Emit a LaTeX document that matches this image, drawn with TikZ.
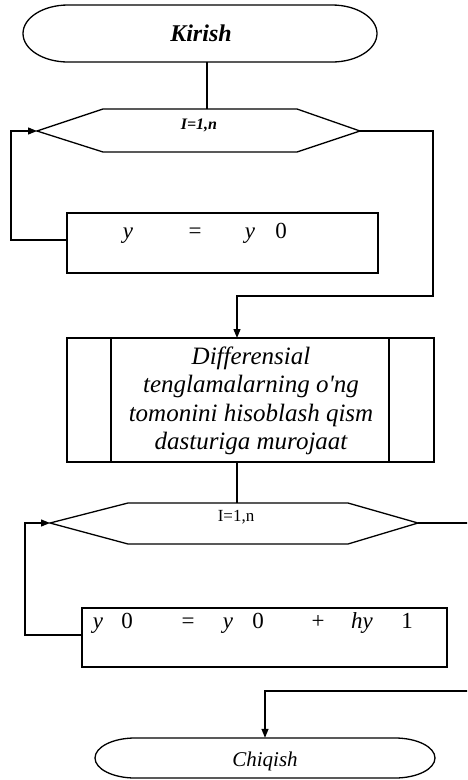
\documentclass[tikz,border=0pt]{standalone}
\usepackage{fontspec}
\setmainfont{Liberation Serif}[Ligatures=TeXOff]
\usetikzlibrary{arrows.meta}
\begin{document}
\begin{tikzpicture}[x=1pt,y=-1pt,
  ln/.style={line width=1.3pt},
  arr/.style={ln,-{Triangle[length=9pt,width=7pt]}},
  boxs/.style={draw,ln},
  eqtxt/.style={font=\fontsize{23}{25}\selectfont,inner sep=0pt,anchor=base}
]
\useasboundingbox (0,0) rectangle (467,780);
\clip (0,0) rectangle (467,780);
% Start terminal
\node[minimum width=355pt,minimum height=57pt,inner sep=0pt] (start) at (200,33.5) {};
\draw[ln] (68,5) -- (332,5) arc[start angle=-90,end angle=90,x radius=45,y radius=28.5]
  -- (68,62) arc[start angle=90,end angle=270,x radius=45,y radius=28.5] -- cycle;
\node[font=\fontsize{24}{26}\selectfont\bfseries\itshape] (starttxt) at (201,33) {Kirish};
% Loop 1 hexagon
\coordinate (h1l) at (37,131);
\coordinate (h1r) at (360,131);
\coordinate (h1t) at (207,109);
\draw[ln] (h1l) -- (103,109) -- (297,109) -- (h1r) -- (297,152) -- (103,152) -- cycle;
\node[font=\fontsize{16}{18}\selectfont\bfseries\itshape,inner sep=0pt] (h1txt) at (199,125) {I=1,n};
% Rect 1
\node[boxs,minimum width=311pt,minimum height=60pt,inner sep=0pt] (r1) at (222.5,243) {};
\node[eqtxt] (r1a) at (128,238) {\itshape y};
\node[eqtxt] (r1b) at (195,238) {=};
\node[eqtxt] (r1c) at (250,238) {\itshape y};
\node[eqtxt] (r1d) at (281,238) {0};
% Subroutine box
\node[boxs,minimum width=367pt,minimum height=124pt,inner sep=0pt] (sub) at (250.5,400) {};
\draw[ln] (111,338) -- (111,462);
\draw[ln] (389,338) -- (389,462);
\node[font=\fontsize{25}{28.5}\selectfont\itshape,align=center,inner sep=0pt] (subtxt) at (251,401)
  {Differensial\\tenglamalarning o'ng\\tomonini hisoblash qism\\dasturiga murojaat};
% Loop 2 hexagon
\coordinate (h2l) at (50,523);
\coordinate (h2r) at (418,523);
\coordinate (h2t) at (237,503);
\draw[ln] (h2l) -- (128,503) -- (348,503) -- (h2r) -- (348,544) -- (128,544) -- cycle;
\node[font=\fontsize{17}{19}\selectfont,inner sep=0pt] (h2txt) at (236,517) {I=1,n};
% Rect 2
\node[boxs,minimum width=365pt,minimum height=59pt,inner sep=0pt] (r2) at (264.5,637.5) {};
\node[eqtxt] (r2a) at (98,628) {\itshape y};
\node[eqtxt] (r2b) at (127,628) {0};
\node[eqtxt] (r2c) at (188,628) {=};
\node[eqtxt] (r2d) at (228,628) {\itshape y};
\node[eqtxt] (r2e) at (258,628) {0};
\node[eqtxt] (r2f) at (318,628) {+};
\node[eqtxt] (r2g) at (362,628) {\itshape hy};
\node[eqtxt] (r2h) at (407,628) {1};
% End terminal
\node[minimum width=340pt,minimum height=40pt,inner sep=0pt] (stop) at (265,758) {};
\draw[ln] (135,738) -- (395,738) arc[start angle=-90,end angle=90,x radius=40,y radius=20]
  -- (135,778) arc[start angle=90,end angle=270,x radius=40,y radius=20] -- cycle;
\node[font=\fontsize{21}{24}\selectfont\itshape] (stoptxt) at (265,761) {Chiqish};
% Connectors
\draw[ln] (start.south -| h1t) -- (h1t);
\draw[arr] (h1r) -- (433,131) -- (433,296) -- (237,296) -- (237,338);
\draw[arr] (67,240) -- (11,240) -- (11,131) -- (h1l);
\draw[ln] (237,462) -- (h2t);
\draw[arr] (82,635) -- (25,635) -- (25,523) -- (h2l);
\draw[arr] (h2r) -- (480,523) -- (480,691) -- (265,691) -- (stop.north);
\end{tikzpicture}
\end{document}
